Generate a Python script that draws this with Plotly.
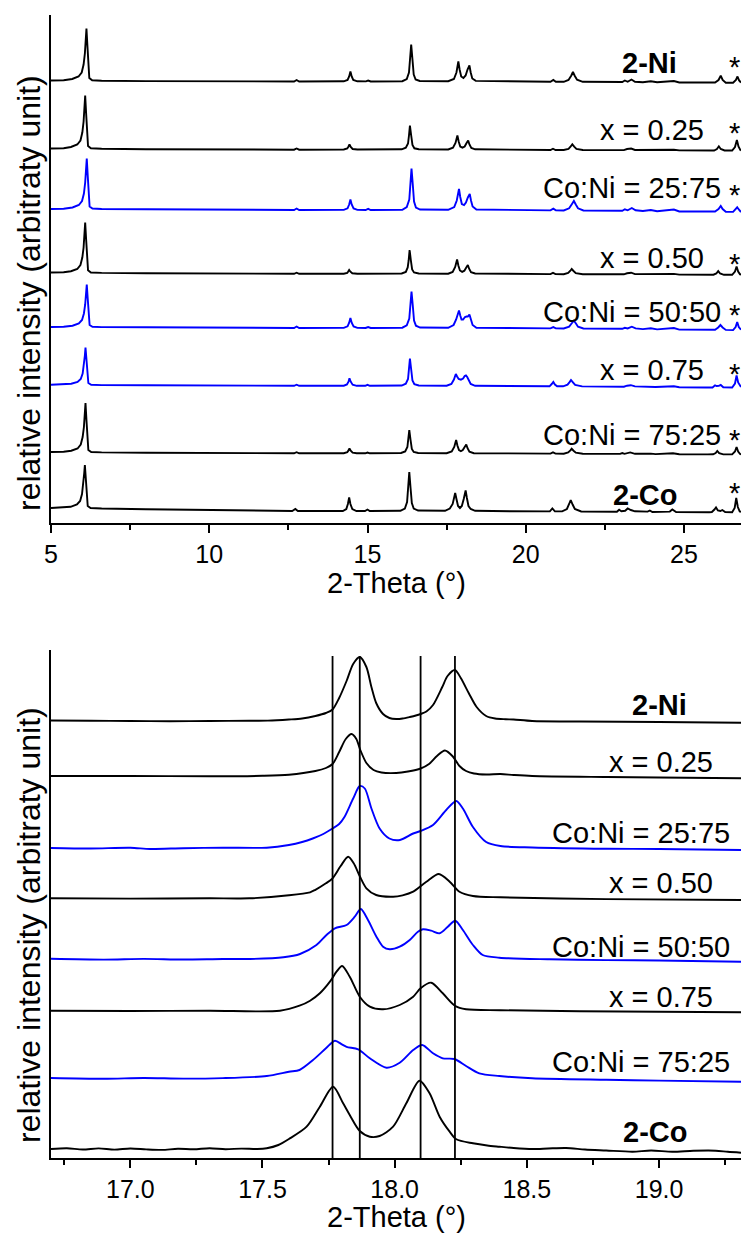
import plotly.graph_objects as go

# ---------------------------------------------------------------------------
# Powder XRD patterns of the 2-Ni / 2-Co series (intensity in arbitrary units,
# each pattern given relative to its own baseline, then stacked by OFFSETS)
# ---------------------------------------------------------------------------
SAMPLES = ["2-Ni", "x = 0.25", "Co:Ni = 25:75", "x = 0.50",
           "Co:Ni = 50:50", "x = 0.75", "Co:Ni = 75:25", "2-Co"]
BOLD = [True, False, False, False, False, False, False, True]

# ---- full range, 5-26.8 deg -------------------------------------------------
WIDE_NI = [
    (5.00, 1.0), (5.40, 1.3), (5.67, 2.5), (5.87, 5), (5.97, 9), (6.03, 17), (6.07, 28), (6.10, 43),
    (6.12, 53), (6.15, 36), (6.18, 12), (6.21, 3.5), (6.30, 1.2), (6.60, 0.7), (8.00, 0.4), (10.00, 0.2),
    (12.00, 0.0), (12.68, 0.0), (12.76, 1.5), (12.84, 0.0),
    (14.25, 0.2), (14.37, 1.5), (14.42, 5), (14.46, 10), (14.50, 5), (14.55, 1.5), (14.68, 0.2),
    (14.95, 0.1), (15.02, 1.0), (15.10, 0.0),
    (16.10, 0.3), (16.24, 2.5), (16.31, 9), (16.35, 22), (16.38, 37), (16.42, 22), (16.46, 7), (16.52, 2), (16.65, 0.5),
    (17.55, 0.3), (17.73, 2.5), (17.81, 9), (17.84, 15), (17.87, 20), (17.91, 12), (17.96, 5), (18.03, 3.5),
    (18.10, 6), (18.16, 12), (18.22, 16), (18.26, 9), (18.31, 3), (18.42, 0.6),
    (19.50, 0.0), (20.78, -0.3), (20.87, 1.5), (20.95, -0.3),
    (21.20, -0.3), (21.35, 1.5), (21.44, 6), (21.49, 9.5), (21.55, 5.5), (21.62, 1.8), (21.80, -0.3),
    (22.50, -0.5), (23.05, -0.5), (23.13, 1.0), (23.22, -0.3), (23.34, 2.0), (23.45, -0.3), (23.70, -0.8),
    (23.95, 0.3), (24.15, -0.8), (24.68, 0.5), (24.85, -1.0), (25.80, -1.2),
    (25.98, -1.0), (26.09, 1.5), (26.16, 5.8), (26.22, 1.5), (26.32, -1.2), (26.55, -1.3), (26.64, 1.5),
    (26.69, 5.0), (26.74, 1.0), (26.80, -1.0),
]
WIDE_X025 = [
    (5.00, 1.0), (5.40, 1.3), (5.63, 2.5), (5.83, 5), (5.93, 9), (5.99, 17), (6.03, 28), (6.06, 43),
    (6.08, 54), (6.11, 36), (6.14, 12), (6.17, 3.5), (6.26, 1.2), (6.60, 0.7), (8.00, 0.3), (10.00, 0.0),
    (12.00, -0.2), (12.68, -0.2), (12.76, 1.0), (12.84, -0.2),
    (14.25, 0.0), (14.36, 1.0), (14.40, 3), (14.43, 5), (14.47, 2.5), (14.53, 0.5), (14.68, 0.0),
    (14.94, 0.0), (15.00, 0.6), (15.07, 0.0),
    (16.08, 0.2), (16.21, 1.8), (16.28, 6), (16.31, 14), (16.34, 24), (16.38, 14), (16.42, 4.5), (16.48, 1.2), (16.62, 0.3),
    (17.55, 0.0), (17.70, 1.8), (17.78, 6.5), (17.81, 10.5), (17.84, 14), (17.88, 8), (17.93, 3), (18.00, 1.8),
    (18.07, 3), (18.13, 6.5), (18.18, 9), (18.22, 5), (18.28, 1.5), (18.40, 0.2),
    (19.50, -0.3), (20.78, -0.5), (20.86, 0.8), (20.94, -0.5),
    (21.20, -0.5), (21.35, 0.6), (21.42, 3), (21.47, 5.2), (21.53, 2.8), (21.60, 0.6), (21.80, -0.5),
    (22.50, -0.6), (23.10, -0.6), (23.20, 0.5), (23.33, 1.0), (23.45, -0.5), (23.95, -0.3), (24.10, -0.8),
    (24.68, -0.2), (24.85, -0.9), (25.80, -1.0),
    (25.95, -1.0), (26.04, 0.5), (26.10, 3.2), (26.16, 0.5), (26.28, -1.0), (26.52, -1.0), (26.61, 2.5),
    (26.67, 9.5), (26.72, 3), (26.78, -0.5), (26.80, -0.8),
]
WIDE_CN2575 = [
    (5.00, 0.5), (5.40, 0.8), (5.68, 2.0), (5.88, 4.5), (5.98, 8.5), (6.04, 16), (6.08, 27), (6.11, 41),
    (6.13, 51), (6.16, 34), (6.19, 11), (6.22, 3), (6.31, 1.0), (6.60, 0.5), (8.00, 0.2), (10.00, -0.2),
    (12.00, -0.5), (12.68, -0.5), (12.76, 1.0), (12.84, -0.5),
    (14.25, -0.4), (14.37, 1.2), (14.42, 5), (14.46, 10), (14.50, 5), (14.56, 1.0), (14.68, -0.4),
    (14.94, -0.5), (15.02, 0.6), (15.10, -0.5),
    (16.10, -0.2), (16.24, 2.5), (16.32, 10), (16.36, 25), (16.39, 41), (16.43, 25), (16.47, 8), (16.53, 2), (16.66, 0.0),
    (17.55, -0.3), (17.74, 2.5), (17.82, 9), (17.86, 16), (17.89, 20.5), (17.93, 12.5), (17.98, 5.5), (18.05, 4.5),
    (18.11, 7), (18.17, 12), (18.23, 15.5), (18.27, 9), (18.32, 3), (18.44, 0.0),
    (19.50, -0.6), (20.78, -0.9), (20.87, 0.8), (20.95, -0.9),
    (21.20, -1.0), (21.37, 1.2), (21.46, 5.5), (21.52, 8.5), (21.58, 5), (21.65, 1.2), (21.82, -1.0),
    (22.50, -1.3), (23.05, -1.3), (23.13, 0.2), (23.22, -0.8), (23.35, 1.5), (23.47, -0.8), (23.70, -1.5),
    (23.95, -0.5), (24.15, -1.8), (24.68, 0.0), (24.85, -2.0), (25.80, -2.3),
    (25.98, -2.0), (26.09, 0.5), (26.16, 3.5), (26.22, 0.5), (26.32, -2.2), (26.55, -2.4), (26.63, 0.0),
    (26.68, 2.2), (26.73, 0.0), (26.80, -2.5),
]
WIDE_X050 = [
    (5.00, 1.0), (5.40, 1.2), (5.63, 2.3), (5.83, 4.5), (5.93, 8.5), (5.99, 16), (6.03, 26), (6.06, 40),
    (6.08, 51), (6.11, 34), (6.14, 11), (6.17, 3.2), (6.26, 1.0), (6.60, 0.6), (8.00, 0.3), (10.00, 0.0),
    (12.00, -0.3), (12.68, -0.3), (12.76, 0.8), (12.84, -0.3),
    (14.25, -0.2), (14.36, 0.6), (14.39, 2), (14.42, 3.5), (14.46, 1.8), (14.52, 0.2), (14.68, -0.3),
    (14.94, -0.3), (15.00, 0.3), (15.07, -0.3),
    (16.08, 0.0), (16.21, 1.6), (16.27, 6), (16.30, 13), (16.33, 23.5), (16.37, 13), (16.41, 4), (16.47, 1.0), (16.62, 0.0),
    (17.55, -0.2), (17.69, 1.6), (17.77, 6.5), (17.80, 10.5), (17.83, 14), (17.87, 8), (17.92, 3), (17.99, 1.6),
    (18.06, 2.8), (18.12, 6), (18.17, 8.5), (18.21, 4.8), (18.27, 1.3), (18.40, 0.0),
    (19.50, -0.5), (20.78, -0.6), (20.86, 0.6), (20.94, -0.6),
    (21.20, -0.7), (21.34, 0.5), (21.41, 2.8), (21.45, 4.5), (21.51, 2.5), (21.58, 0.3), (21.80, -0.7),
    (22.50, -0.8), (23.10, -0.8), (23.20, 0.2), (23.33, 0.8), (23.45, -0.6), (23.95, -0.5), (24.10, -1.0),
    (24.68, -0.4), (24.85, -1.1), (25.80, -1.3),
    (25.93, -1.2), (26.02, 0.0), (26.08, 2.4), (26.14, 0.0), (26.26, -1.3), (26.52, -1.3), (26.61, 2.0),
    (26.66, 7.0), (26.71, 2.0), (26.77, -0.8), (26.80, -1.0),
]
WIDE_CN5050 = [
    (5.00, 0.5), (5.40, 0.8), (5.68, 1.8), (5.88, 4), (5.98, 7.5), (6.04, 14), (6.08, 23), (6.11, 35),
    (6.13, 43), (6.16, 29), (6.19, 9), (6.22, 2.5), (6.31, 0.8), (6.60, 0.4), (8.00, 0.2), (10.00, -0.2),
    (12.00, -0.5), (12.68, -0.5), (12.76, 1.0), (12.84, -0.5),
    (14.25, -0.4), (14.37, 1.2), (14.42, 4.8), (14.46, 9.5), (14.50, 4.8), (14.56, 1.0), (14.68, -0.4),
    (14.94, -0.5), (15.02, 0.5), (15.10, -0.5),
    (16.10, -0.2), (16.24, 2.2), (16.32, 9), (16.36, 22), (16.39, 36), (16.43, 22), (16.47, 7), (16.53, 1.8), (16.66, 0.0),
    (17.55, -0.3), (17.72, 2.5), (17.80, 8), (17.85, 14), (17.89, 17), (17.93, 12), (17.97, 8), (18.02, 8),
    (18.08, 10.5), (18.13, 11), (18.17, 11), (18.22, 13), (18.27, 7), (18.32, 2.5), (18.44, -0.2),
    (19.50, -0.6), (20.78, -0.9), (20.87, 0.4), (20.95, -0.9),
    (21.20, -1.0), (21.37, 0.8), (21.46, 4.5), (21.52, 6.8), (21.58, 4.2), (21.65, 0.8), (21.82, -1.0),
    (22.50, -1.3), (23.05, -1.3), (23.13, -0.3), (23.22, -0.9), (23.35, 0.8), (23.47, -0.9), (23.70, -1.6),
    (23.95, -0.8), (24.15, -1.9), (24.68, -0.5), (24.85, -2.1), (25.80, -2.5),
    (25.98, -2.2), (26.08, 0.0), (26.15, 2.5), (26.22, 0.0), (26.32, -2.4), (26.55, -2.6), (26.63, 0.5),
    (26.68, 5.5), (26.73, 0.5), (26.80, -2.2),
]
WIDE_X075 = [
    (5.00, 0.8), (5.40, 1.0), (5.64, 1.8), (5.84, 3.5), (5.94, 6.5), (6.00, 12), (6.04, 20), (6.07, 30),
    (6.09, 38), (6.12, 26), (6.15, 8.5), (6.18, 2.5), (6.27, 0.8), (6.60, 0.4), (8.00, 0.2), (10.00, 0.0),
    (12.00, -0.3), (12.68, -0.3), (12.76, 0.8), (12.84, -0.3),
    (14.25, -0.2), (14.35, 1.0), (14.40, 3.8), (14.43, 7.3), (14.47, 3.8), (14.53, 0.8), (14.66, -0.3),
    (14.93, -0.3), (15.00, 0.6), (15.07, -0.3),
    (16.08, 0.0), (16.21, 1.8), (16.28, 6.5), (16.31, 16), (16.34, 27), (16.38, 16), (16.42, 5), (16.48, 1.3), (16.62, 0.0),
    (17.50, -0.2), (17.65, 1.6), (17.73, 6), (17.76, 9.5), (17.79, 11.5), (17.83, 9), (17.88, 6.5), (17.95, 5.8),
    (18.02, 7), (18.07, 9.5), (18.11, 10), (18.15, 8.5), (18.20, 4.5), (18.26, 1.5), (18.40, -0.3),
    (19.50, -0.6), (20.75, -0.8), (20.82, 1.5), (20.87, 3.5), (20.92, 1.0), (20.99, -0.8),
    (21.18, -0.8), (21.32, 0.8), (21.39, 3.6), (21.43, 5.5), (21.49, 3.2), (21.56, 0.6), (21.78, -0.9),
    (22.50, -1.2), (23.10, -1.2), (23.20, -0.2), (23.32, 0.3), (23.45, -0.9), (23.95, -1.0), (24.10, -1.5),
    (24.68, -0.8), (24.85, -1.7), (25.70, -2.0),
    (25.90, -2.0), (25.98, 0.2), (26.03, -0.5), (26.10, -0.4), (26.16, 0.5), (26.24, -1.8), (26.52, -2.0),
    (26.61, 2.0), (26.66, 10), (26.71, 3), (26.77, -1.2), (26.80, -1.5),
]
WIDE_CN7525 = [
    (5.00, 1.0), (5.40, 1.3), (5.64, 2.3), (5.84, 4.5), (5.94, 8.5), (6.00, 16), (6.04, 26), (6.07, 40),
    (6.09, 50), (6.12, 33), (6.15, 11), (6.18, 3), (6.27, 1.0), (6.60, 0.6), (8.00, 0.3), (10.00, 0.0),
    (12.00, -0.3), (12.68, -0.3), (12.76, 0.8), (12.84, -0.3),
    (14.25, -0.2), (14.36, 0.8), (14.40, 2.6), (14.43, 4.5), (14.47, 2.3), (14.53, 0.4), (14.66, -0.3),
    (14.93, -0.3), (15.00, 0.5), (15.07, -0.3),
    (16.06, 0.0), (16.19, 1.6), (16.26, 6), (16.29, 13), (16.32, 23), (16.36, 13), (16.40, 4), (16.46, 1.0), (16.60, 0.0),
    (17.50, -0.2), (17.66, 1.6), (17.74, 6), (17.77, 10), (17.80, 13), (17.84, 7.5), (17.89, 3), (17.95, 1.8),
    (18.01, 3), (18.07, 6), (18.12, 8.5), (18.16, 4.8), (18.22, 1.3), (18.36, -0.2),
    (19.50, -0.5), (20.78, -0.6), (20.86, 0.6), (20.94, -0.6),
    (21.20, -0.7), (21.34, 0.5), (21.41, 2.6), (21.45, 4.2), (21.51, 2.3), (21.58, 0.3), (21.80, -0.7),
    (22.50, -0.9), (22.98, -0.9), (23.05, 0.0), (23.12, -0.8), (23.30, 0.6), (23.45, -0.8), (23.95, -0.6),
    (24.10, -1.1), (24.65, -0.2), (24.85, -1.2), (25.75, -1.4),
    (25.92, -1.3), (26.00, 0.0), (26.05, 2.0), (26.11, -0.2), (26.24, -1.4), (26.52, -1.4), (26.61, 1.5),
    (26.66, 6), (26.71, 1.5), (26.77, -1.0), (26.80, -1.2),
]
WIDE_CO = [
    (5.00, 2.0), (5.40, 2.3), (5.62, 3.2), (5.82, 5.5), (5.92, 9), (5.98, 16), (6.02, 25), (6.05, 37),
    (6.07, 45), (6.10, 31), (6.13, 11), (6.16, 4), (6.25, 2.0), (6.60, 1.5), (8.00, 0.8), (10.00, 0.0),
    (12.00, -0.8), (12.62, -1.0), (12.72, 1.0), (12.80, -1.0),
    (14.22, -1.0), (14.33, 1.0), (14.38, 6), (14.42, 12.5), (14.46, 6), (14.52, 1.0), (14.65, -1.0),
    (14.92, -1.0), (15.00, 0.5), (15.07, -1.0),
    (16.04, -0.8), (16.18, 1.5), (16.25, 8), (16.29, 22), (16.32, 38), (16.36, 22), (16.40, 7), (16.46, 1.5), (16.60, -0.5),
    (17.45, -0.8), (17.60, 1.5), (17.69, 6), (17.73, 12), (17.77, 17), (17.81, 11), (17.86, 4), (17.92, 2),
    (17.98, 4), (18.04, 11), (18.10, 19.5), (18.14, 12), (18.19, 4), (18.26, 1.0), (18.40, -0.8),
    (19.50, -1.2), (20.76, -1.4), (20.84, 1.5), (20.92, -1.4),
    (21.15, -1.4), (21.30, 1.0), (21.37, 6), (21.42, 10), (21.48, 5.5), (21.55, 1.0), (21.75, -1.5),
    (22.50, -1.8), (22.88, -1.8), (22.95, 0.2), (23.02, -1.2), (23.14, -0.8), (23.22, 1.5), (23.32, 0.0),
    (23.45, -1.3), (23.85, -1.6), (23.92, -0.5), (24.00, -2.0), (24.55, -1.6), (24.63, 0.5), (24.75, -2.0),
    (25.80, -2.2),
    (25.88, -2.0), (25.96, 0.5), (26.01, 2.5), (26.07, -0.5), (26.15, -1.0), (26.21, 0.0), (26.30, -2.0),
    (26.52, -2.2), (26.60, 2), (26.65, 12), (26.70, 3), (26.76, -1.5), (26.80, -1.8),
]
WIDE_PATTERNS = [WIDE_NI, WIDE_X025, WIDE_CN2575, WIDE_X050,
                 WIDE_CN5050, WIDE_X075, WIDE_CN7525, WIDE_CO]
WIDE_OFFSETS = [441.5, 373.5, 313.5, 249.5, 195.5, 137.5, 70.0, 13.0]
WIDE_COLORS = ["black", "black", "blue", "black", "blue", "blue", "black", "black"]

# ---- detail, 16.7-19.3 deg -------------------------------------------------
ZOOM_NI = [
    (16.70, 0.5), (16.85, 0.2), (17.00, 0.0), (17.15, -0.2), (17.30, 0.0), (17.45, 0.2), (17.52, 0.4),
    (17.60, 1.5), (17.65, 2.5), (17.70, 5), (17.74, 8), (17.765, 11.5), (17.79, 23), (17.818, 40),
    (17.843, 57), (17.868, 64), (17.893, 54), (17.912, 34), (17.93, 18), (17.956, 7), (17.98, 3),
    (18.006, 2), (18.03, 2.5), (18.057, 4), (18.08, 5.5), (18.098, 7), (18.12, 9.5), (18.145, 16),
    (18.18, 34), (18.20, 45), (18.228, 51), (18.25, 43), (18.28, 28), (18.31, 14), (18.346, 5),
    (18.38, 2.5), (18.42, 1.8), (18.45, 1.5), (18.52, 0.0), (18.70, -0.5), (19.00, -1.0), (19.31, -1.7),
]
ZOOM_X025 = [
    (16.70, 0.0), (17.00, 0.0), (17.30, -0.3), (17.50, 0.2), (17.60, 1.3), (17.70, 5), (17.74, 8),
    (17.765, 12), (17.79, 24), (17.815, 37), (17.837, 42), (17.855, 37), (17.87, 26), (17.893, 13),
    (17.92, 6), (17.95, 3.5), (18.006, 3), (18.05, 4.5), (18.098, 7.5), (18.13, 12), (18.16, 20),
    (18.19, 25.5), (18.22, 19.5), (18.245, 10), (18.27, 5), (18.30, 2.5), (18.346, 1.5), (18.40, 2),
    (18.45, 1.0), (18.52, 0.0), (18.80, -1.0), (19.00, -1.5), (19.31, -2.3),
]
ZOOM_CN2575 = [
    (16.70, 0.0), (16.85, -0.5), (17.00, 0.3), (17.075, -1.0), (17.20, -0.2), (17.35, 0.3), (17.516, 0.3),
    (17.60, 3), (17.65, 6), (17.69, 9.5), (17.73, 14), (17.765, 19.5), (17.79, 24), (17.81, 31),
    (17.843, 49.5), (17.868, 62), (17.887, 59.5), (17.912, 39.5), (17.943, 19.5), (17.98, 9.5),
    (18.02, 8), (18.07, 14.5), (18.098, 17), (18.145, 23), (18.195, 38), (18.233, 47), (18.258, 39.5),
    (18.296, 21), (18.346, 6), (18.40, 2), (18.52, 0.5), (18.80, -0.8), (19.00, -1.0), (19.31, -2.0),
]
ZOOM_X050 = [
    (16.70, 0.0), (17.00, -0.3), (17.30, 0.0), (17.45, 0.0), (17.60, 3), (17.68, 6), (17.70, 8.5),
    (17.74, 15), (17.765, 20), (17.795, 32), (17.824, 41.5), (17.845, 35), (17.868, 22), (17.893, 10),
    (17.93, 3.3), (17.994, 1.6), (18.03, 3), (18.07, 6.6), (18.12, 16.6), (18.167, 24.3), (18.208, 16.6),
    (18.245, 6.6), (18.296, 2.3), (18.40, 1.0), (18.80, -0.8), (19.31, -1.7),
]
ZOOM_CN5050 = [
    (16.70, 0.5), (16.90, -0.3), (17.05, 0.4), (17.20, -0.2), (17.35, 0.3), (17.453, 0.3), (17.579, 2),
    (17.642, 5.3), (17.704, 14.3), (17.742, 24.3), (17.774, 31), (17.818, 34.3), (17.849, 42.6),
    (17.872, 50.3), (17.899, 39.3), (17.931, 22.6), (17.956, 12.6), (17.981, 10), (18.019, 12.6),
    (18.057, 19.3), (18.088, 27.6), (18.107, 30), (18.138, 28.6), (18.17, 26), (18.201, 32.6),
    (18.229, 38.6), (18.258, 29.3), (18.296, 14.3), (18.333, 4.3), (18.396, 1.6), (18.585, 0.0),
    (18.80, -0.8), (19.00, -1.2), (19.31, -2.4),
]
ZOOM_X075 = [
    (16.70, 0.0), (17.00, -0.3), (17.30, 0.0), (17.566, 0.0), (17.64, 5), (17.68, 10), (17.717, 17.4),
    (17.755, 29), (17.78, 39), (17.801, 44.7), (17.83, 34), (17.868, 14), (17.906, 4), (17.956, 1.4),
    (18.019, 5.7), (18.07, 14), (18.098, 22.4), (18.138, 28), (18.182, 17.4), (18.228, 5), (18.27, 1.4),
    (18.40, 0.5), (18.70, -0.5), (19.00, -1.0), (19.31, -1.6),
]
ZOOM_CN7525 = [
    (16.70, 0.3), (16.90, -0.5), (17.05, 0.3), (17.20, -0.3), (17.35, 0.2), (17.516, 2.3), (17.60, 6.6),
    (17.64, 8.3), (17.69, 18), (17.74, 30), (17.774, 37.6), (17.80, 34), (17.818, 31.5), (17.862, 29),
    (17.906, 20), (17.969, 10.6), (18.019, 15.6), (18.07, 28.3), (18.104, 33.3), (18.145, 25),
    (18.182, 20), (18.226, 19.3), (18.27, 12.3), (18.32, 5), (18.396, 2.3), (18.52, 0.0), (18.80, -1.5),
    (19.00, -2.3), (19.31, -3.4),
]
ZOOM_CO = [
    (16.70, 0.0), (16.76, 0.8), (16.82, -0.5), (16.88, 0.6), (16.94, -0.6), (17.00, 0.5), (17.06, -0.4),
    (17.12, -0.9), (17.18, 0.2), (17.24, -0.3), (17.30, 0.8), (17.36, -0.2), (17.42, 0.4), (17.48, 0.0),
    (17.516, 0.7), (17.56, 4), (17.60, 10), (17.667, 22.3), (17.717, 42.3), (17.767, 62.3),
    (17.805, 45.7), (17.83, 34), (17.868, 18), (17.906, 12.3), (17.943, 13), (17.994, 22.3),
    (18.044, 45.7), (18.094, 68.3), (18.132, 55.7), (18.17, 32.3), (18.208, 17.3), (18.233, 9.7),
    (18.296, 5.7), (18.35, 3.5), (18.396, 2.3), (18.45, 1.0), (18.522, 0.0), (18.58, 0.5), (18.648, 1.0),
    (18.72, -0.5), (18.80, -1.5), (18.90, -2.7), (18.97, -1.5), (19.05, -2.8), (19.13, -1.8),
    (19.214, -1.7), (19.26, -2.8), (19.31, -3.7),
]
ZOOM_PATTERNS = [ZOOM_NI, ZOOM_X025, ZOOM_CN2575, ZOOM_X050,
                 ZOOM_CN5050, ZOOM_X075, ZOOM_CN7525, ZOOM_CO]
ZOOM_OFFSETS = [437.0, 382.0, 310.0, 259.7, 198.7, 147.3, 79.7, 9.0]
ZOOM_COLORS = ["black", "black", "blue", "black", "blue", "black", "blue", "black"]

# reflection positions marked in the detail panel (2-Co pair and 2-Ni pair)
REF_LINES = [17.765, 17.868, 18.098, 18.228]
REF_LINE_TOP = 502

# axis settings
WIDE_RANGE = [5, 26.8]
WIDE_TICKS = [5, 10, 15, 20, 25]
WIDE_MINOR = [7.5, 12.5, 17.5, 22.5]
ZOOM_RANGE = [16.7, 19.31]
ZOOM_TICKS = [17.0, 17.5, 18.0, 18.5, 19.0]
ZOOM_MINOR = [16.75, 17.25, 17.75, 18.25, 18.75, 19.25]
Y_RANGE = [0, 508]

FONT = "Liberation Sans, Arial, Helvetica, sans-serif"
W, H = 741, 1234
M_L, M_R, M_T, M_B = 51, 0, 15, 76

fig = go.Figure()

for pts, off, col in zip(WIDE_PATTERNS, WIDE_OFFSETS, WIDE_COLORS):
    fig.add_trace(go.Scatter(
        x=[p[0] for p in pts], y=[p[1] + off for p in pts],
        mode="lines", line=dict(color=col, width=1.9),
        xaxis="x", yaxis="y", showlegend=False, hoverinfo="skip"))

for pts, off, col in zip(ZOOM_PATTERNS, ZOOM_OFFSETS, ZOOM_COLORS):
    fig.add_trace(go.Scatter(
        x=[p[0] for p in pts], y=[p[1] + off for p in pts],
        mode="lines", line=dict(color=col, width=1.9, shape="spline", smoothing=0.8),
        xaxis="x2", yaxis="y2", showlegend=False, hoverinfo="skip"))

for xv in REF_LINES:
    fig.add_trace(go.Scatter(
        x=[xv, xv], y=[0, REF_LINE_TOP], mode="lines",
        line=dict(color="black", width=1.8),
        xaxis="x2", yaxis="y2", showlegend=False, hoverinfo="skip"))

# sample labels: right edge (deg) and vertical centre in each panel
WIDE_LABEL_X = [24.83, 25.68, 26.22, 25.68, 26.22, 25.68, 26.22, 24.83]
WIDE_LABEL_Y = [460, 393, 335, 265, 211, 153, 88, 28]
WIDE_STAR_X = 26.60
WIDE_STAR_Y = [456, 390, 328, 259, 208, 149, 83, 30]
ZOOM_LABEL_X = [19.112, 19.213, 19.275, 19.213, 19.275, 19.213, 19.275, 19.112]
ZOOM_LABEL_Y = [453, 396, 325, 275, 211, 161, 96, 26]

annotations = []
for name, bold, xr, yv in zip(SAMPLES, BOLD, WIDE_LABEL_X, WIDE_LABEL_Y):
    annotations.append(dict(
        x=xr, y=yv, xref="x", yref="y", xanchor="right", yanchor="middle",
        text=f"<b>{name}</b>" if bold else name, showarrow=False,
        font=dict(family=FONT, size=29, color="black")))
for yv in WIDE_STAR_Y:
    annotations.append(dict(
        x=WIDE_STAR_X, y=yv, xref="x", yref="y", xanchor="center", yanchor="middle",
        text="*", showarrow=False, font=dict(family=FONT, size=29, color="black")))
for name, bold, xr, yv in zip(SAMPLES, BOLD, ZOOM_LABEL_X, ZOOM_LABEL_Y):
    annotations.append(dict(
        x=xr, y=yv, xref="x2", yref="y2", xanchor="right", yanchor="middle",
        text=f"<b>{name}</b>" if bold else name, showarrow=False,
        font=dict(family=FONT, size=29, color="black")))

# axis titles
plot_h = H - M_T - M_B
plot_w = W - M_L - M_R
def py(px):
    return (H - M_B - px) / plot_h
def pxx(px):
    return (px - M_L) / plot_w

for yc in (293, 925):
    annotations.append(dict(
        x=pxx(29), y=py(yc), xref="paper", yref="paper", xanchor="center", yanchor="middle",
        text="relative intensity (arbitraty unit)", textangle=-90, showarrow=False,
        font=dict(family=FONT, size=32, color="black")))
for yc in (583, 1217):
    annotations.append(dict(
        x=0.5, y=py(yc), xref="paper", yref="paper", xanchor="center", yanchor="middle",
        text="2-Theta (°)", showarrow=False,
        font=dict(family=FONT, size=29, color="black")))

axis_common = dict(showgrid=False, zeroline=False, showline=True, linecolor="black",
                   linewidth=2, mirror=False)
xtick_common = dict(ticks="outside", ticklen=8, tickwidth=2, tickcolor="black",
                    tickfont=dict(family=FONT, size=25, color="black"))

fig.update_layout(
    width=W, height=H,
    margin=dict(l=M_L, r=M_R, t=M_T, b=M_B, pad=0),
    paper_bgcolor="white", plot_bgcolor="white",
    font=dict(family=FONT, color="black"),
    showlegend=False,
    xaxis=dict(domain=[0, 1], anchor="y", range=WIDE_RANGE, tickvals=WIDE_TICKS,
               minor=dict(tickvals=WIDE_MINOR, ticks="outside", ticklen=5, tickwidth=2,
                          tickcolor="black"),
               **axis_common, **xtick_common),
    yaxis=dict(domain=[py(523), 1], anchor="x", range=Y_RANGE, showticklabels=False,
               ticks="", **axis_common),
    xaxis2=dict(domain=[0, 1], anchor="y2", range=ZOOM_RANGE, tickvals=ZOOM_TICKS,
                tickformat=".1f",
                minor=dict(tickvals=ZOOM_MINOR, ticks="outside", ticklen=5, tickwidth=2,
                           tickcolor="black"),
                **axis_common, **xtick_common),
    yaxis2=dict(domain=[0, py(650)], anchor="x2", range=Y_RANGE, showticklabels=False,
                ticks="", **axis_common),
    annotations=annotations,
)

fig.write_html("out.html")
